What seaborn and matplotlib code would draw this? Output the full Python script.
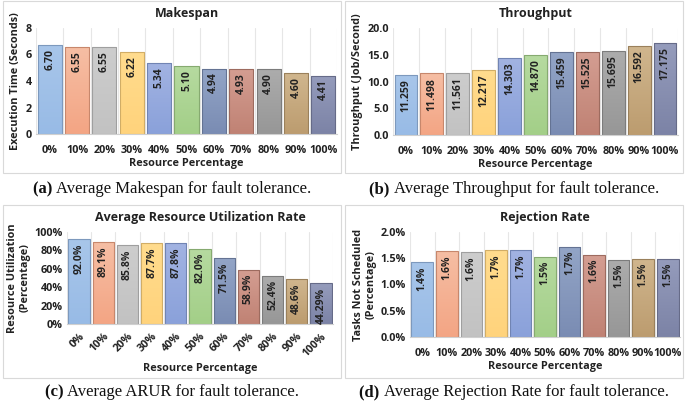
import numpy as np
import pandas as pd
import matplotlib
matplotlib.use("Agg")
import matplotlib.pyplot as plt
from matplotlib.colors import to_rgb
from matplotlib.patches import Rectangle
from matplotlib.ticker import FixedLocator, FuncFormatter
import seaborn as sns

# ---------------- data ----------------
categories = ["0%", "10%", "20%", "30%", "40%", "50%", "60%", "70%", "80%", "90%", "100%"]

makespan = [6.70, 6.55, 6.55, 6.22, 5.34, 5.10, 4.94, 4.93, 4.90, 4.60, 4.41]
makespan_labels = ["6.70", "6.55", "6.55", "6.22", "5.34", "5.10", "4.94", "4.93", "4.90", "4.60", "4.41"]

throughput = [11.259, 11.498, 11.561, 12.217, 14.303, 14.870, 15.459, 15.525, 15.695, 16.592, 17.175]
throughput_labels = ["11.259", "11.498", "11.561", "12.217", "14.303", "14.870", "15.459",
                     "15.525", "15.695", "16.592", "17.175"]

arur = [92.0, 89.1, 85.8, 87.7, 87.8, 82.0, 71.5, 58.9, 52.4, 48.6, 44.29]
arur_labels = ["92.0%", "89.1%", "85.8%", "87.7%", "87.8%", "82.0%", "71.5%", "58.9%",
               "52.4%", "48.6%", "44.29%"]

rejection = [1.42, 1.64, 1.62, 1.65, 1.65, 1.53, 1.72, 1.57, 1.47, 1.49, 1.49]
rejection_labels = ["1.4%", "1.6%", "1.6%", "1.7%", "1.7%", "1.5%", "1.7%", "1.6%",
                    "1.5%", "1.5%", "1.5%"]

colors_top = ["#A8C6EA", "#F6BEA4", "#CDCDCD", "#FFDC8E", "#A2B3E2", "#B6DAA0",
              "#93A5C7", "#D49E92", "#ACACAC", "#D0B68E", "#959CBC"]
colors_bot = ["#98BBE6", "#F3A584", "#C2C2C2", "#FFD37C", "#8AA1DA", "#A3CF88",
              "#7A8CB3", "#C08274", "#979797", "#BC9C6F", "#7C83A6"]

# ---------------- figure ----------------
W, H = 685, 404
sns.set_theme(style="white")
plt.rcParams["font.family"] = ["Open Sans", "DejaVu Sans"]
fig = plt.figure(figsize=(W / 100, H / 100), dpi=100)


def ax_px(x0, y0, x1, y1):
    return fig.add_axes([x0 / W, 1 - y1 / H, (x1 - x0) / W, (y1 - y0) / H])


def box_px(x0, y0, x1, y1):
    fig.patches.append(Rectangle((x0 / W, 1 - y1 / H), (x1 - x0) / W, (y1 - y0) / H,
                                 transform=fig.transFigure, fill=False,
                                 edgecolor="#D9D9D9", linewidth=0.8))


def darker(c, f=0.85):
    r, g, b = to_rgb(c)
    return (r * f, g * f, b * f)


def panel(ax, values, labels, title, ylabel, ylim, yticks, yfmt, rotate=False):
    df = pd.DataFrame({"cat": categories, "val": values})
    sns.barplot(data=df, x="cat", y="val", hue="cat", palette=colors_bot, legend=False,
                ax=ax, width=0.88, saturation=1)
    ax.set_ylim(*ylim)
    ax.set_xlim(-0.5, len(categories) - 0.5)
    # gradient fill inside each bar
    grad = np.linspace(0, 1, 64).reshape(-1, 1)
    for i, p in enumerate(ax.patches[:len(categories)]):
        x0, y0 = p.get_x(), p.get_y()
        w, h = p.get_width(), p.get_height()
        ct = np.array(to_rgb(colors_top[i]))
        cb = np.array(to_rgb(colors_bot[i]))
        img = (ct[None, None, :] * (1 - grad[:, :, None]) + cb[None, None, :] * grad[:, :, None])
        im = ax.imshow(img, extent=(x0, x0 + w, y0, y0 + h), aspect="auto",
                       origin="upper", zorder=2)
        im.set_clip_path(p)
        p.set_edgecolor(darker(colors_bot[i], 0.82))
        p.set_linewidth(0.8)
        p.set_zorder(2.5)
        p.set_facecolor("none")
        ax.annotate(labels[i], (p.get_x() + w / 2, y0 + h), xytext=(0, -3),
                    textcoords="offset points", rotation=90, ha="center", va="top",
                    fontsize=7.5, fontweight="bold", color="#222222", zorder=4)
    ax.set_xlim(-0.5, len(categories) - 0.5)
    ax.set_ylim(*ylim)
    ax.set_yticks(yticks)
    ax.yaxis.set_major_formatter(FuncFormatter(yfmt))
    ax.xaxis.set_minor_locator(FixedLocator(np.arange(-0.5, len(categories), 1.0)))
    ax.grid(False)
    ax.grid(True, which="minor", axis="x", color="#E6E6E6", linewidth=0.8, zorder=0)
    ax.set_axisbelow(True)
    for s in ["top", "right", "left"]:
        ax.spines[s].set_visible(False)
    ax.spines["bottom"].set_color("#D0D0D0")
    ax.spines["bottom"].set_linewidth(0.8)
    ax.tick_params(axis="x", which="major", length=0, pad=8, labelsize=7.8)
    ax.tick_params(axis="x", which="minor", length=4, color="#D0D0D0", width=0.8)
    ax.tick_params(axis="y", length=0, pad=3, labelsize=7.8)
    for t in ax.get_xticklabels() + ax.get_yticklabels():
        t.set_fontweight("bold")
        t.set_color("#222222")
    if rotate:
        for t in ax.get_xticklabels():
            t.set_rotation(45)
            t.set_ha("right")
            t.set_rotation_mode("anchor")
        ax.tick_params(axis="x", which="major", pad=5)
    ax.set_xlabel("Resource Percentage", fontsize=7.8, fontweight="bold", color="#222222",
                  labelpad=1 if not rotate else 3)
    ax.set_ylabel(ylabel, fontsize=7.8, fontweight="bold", color="#222222", labelpad=3,
                  linespacing=1.1)
    ax.set_title(title, fontsize=9, fontweight="bold", color="#222222", pad=8)


# panel boxes
box_px(3, 1, 341, 173)
box_px(345, 1, 683, 173)
box_px(3, 205, 341, 378)
box_px(345, 205, 683, 378)

axA = ax_px(36, 28, 337, 134)
panel(axA, makespan, makespan_labels, "Makespan", "Execution Time (Seconds)",
      (0, 8), [0, 2, 4, 6, 8], lambda v, p: f"{v:.0f}")

axB = ax_px(393, 28, 678, 135)
panel(axB, throughput, throughput_labels, "Throughput", "Throughput (Job/Second)",
      (0, 20), [0, 5, 10, 15, 20], lambda v, p: f"{v:.1f}")

axC = ax_px(67, 232, 333, 324)
panel(axC, arur, arur_labels, "Average Resource Utilization Rate",
      "Resource Utilization\n(Percentage)", (0, 100), [0, 20, 40, 60, 80, 100],
      lambda v, p: f"{v:.0f}%", rotate=True)

axD = ax_px(410, 232, 680, 337)
panel(axD, rejection, rejection_labels, "Rejection Rate",
      "Tasks Not Scheduled\n(Percentage)", (0, 2.0), [0, 0.5, 1.0, 1.5, 2.0],
      lambda v, p: f"{v:.1f}%")

# captions
cap_font = ["Liberation Serif", "DejaVu Serif"]
captions = [
    (172, 189, "(a)", "Average Makespan for fault tolerance."),
    (514, 189, "(b)", "Average Throughput for fault tolerance."),
    (172, 392, "(c)", "Average ARUR for fault tolerance."),
    (514, 392, "(d)", "Average Rejection Rate for fault tolerance."),
]
for cx, cy, tag, txt in captions:
    t1 = fig.text(0, 0, tag + " ", fontsize=12, fontweight="bold", family=cap_font)
    t2 = fig.text(0, 0, txt, fontsize=12, family=cap_font)
    r = fig.canvas.get_renderer()
    w1 = t1.get_window_extent(r).width
    w2 = t2.get_window_extent(r).width
    x0 = cx - (w1 + w2) / 2
    t1.set_position((x0 / W, 1 - cy / H))
    t2.set_position(((x0 + w1) / W, 1 - cy / H))
    t1.set_va("center")
    t2.set_va("center")
    t1.set_color("#111111")
    t2.set_color("#111111")

fig.savefig("out.png", dpi=100)
